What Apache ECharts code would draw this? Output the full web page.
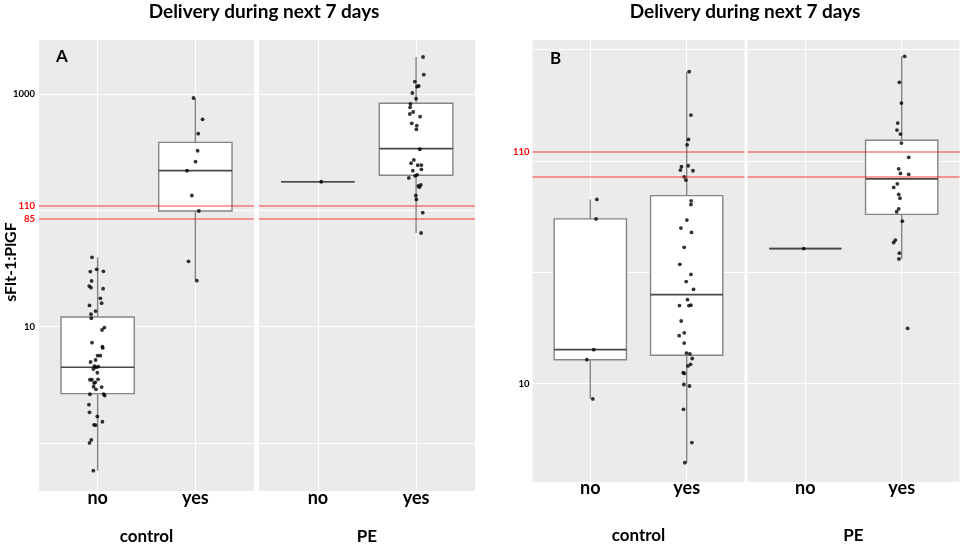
<!DOCTYPE html>
<html><head><meta charset="utf-8">
<script src="https://cdn.jsdelivr.net/npm/echarts@6/dist/echarts.min.js"></script>
<style>html,body{margin:0;padding:0;background:#fff}#c{width:963px;height:546px}</style>
</head><body><div id="c"></div>
<script>
const categories = ['no', 'yes'];
const facets = ['control', 'PE'];
const tickLabelsA = [10, 1000];
const tickLabelsB = [10];
const cutoffs = [110, 85];
const cutoffLabelsA = [110, 85];
const cutoffLabelsB = [110];

// points: [jitter offset, value]
const aControlNo = [[-0.058,39.4],[-0.010,31.1],[-0.075,29.7],[0.059,29.9],[-0.062,24.7],[-0.086,22.3],[-0.068,21.6],[0.056,21.2],[0.028,17.5],[0.041,15.9],[-0.083,15.2],[-0.021,13.6],[-0.068,12.8],[-0.065,11.8],[0.069,9.8],[0.045,9.35],[-0.058,7.27],[0.049,6.72],[0.052,6.55],[0,5.62],[0.028,5.62],[-0.021,5.16],[-0.072,4.96],[-0.034,4.58],[-0.017,4.47],[-0.044,4.32],[0.007,4.52],[-0.003,4.01],[-0.079,3.49],[-0.058,3.49],[0.004,3.52],[-0.037,3.27],[-0.024,3.32],[-0.041,3.04],[0.041,3.02],[-0.017,2.89],[-0.079,2.62],[0.062,2.63],[0.072,2.55],[-0.089,2.13],[-0.083,1.83],[-0.003,1.69],[0.049,1.52],[-0.037,1.43],[-0.021,1.42],[-0.065,1.06],[-0.083,1.0],[-0.044,0.577]];
const aControlYes = [[-0.019,924],[0.074,606],[0.029,456],[0.023,325],[0.002,262],[-0.085,219],[-0.036,134],[0.036,98.6],[-0.07,36.4],[0.015,24.8]];
const aPENo = [[0.034,176]];
const aPEYes = [[0.071,2080],[0.078,1466],[-0.013,1276],[0.027,1172],[0.010,1156],[-0.038,1020],[0,911],[-0.058,820],[-0.061,768],[-0.030,700],[-0.064,673],[0.041,638],[-0.044,560],[0.007,534],[0.003,497],[0.038,335],[-0.023,271],[-0.051,254],[0.017,244],[0.054,245],[0.054,225],[-0.033,219],[0.010,202],[-0.010,198],[-0.074,190],[0.048,165],[0.023,162],[0.033,158],[-0.003,134],[0.003,124],[0.068,95.4],[0.051,63.8]];
const bControlNo = [[0.068,67.1],[0.060,54.9],[0.036,14.2],[-0.036,12.8],[0.026,8.53]];
const bControlYes = [[0.026,251.5],[0.044,160.6],[0.019,124.9],[0.005,118.1],[-0.054,94.1],[-0.065,90.9],[0.016,95.1],[0.065,90.3],[-0.026,84.8],[-0.008,82.0],[0.047,66.2],[0.044,63.7],[0.002,54.2],[-0.060,49.9],[0.050,47.7],[-0.026,40.9],[-0.071,34.3],[0.044,30.9],[-0.005,28.7],[0.071,26.5],[0.008,23.8],[-0.075,22.4],[0.023,22.4],[0.044,22.5],[-0.057,19.1],[-0.078,16.4],[-0.026,16.9],[-0.026,15.2],[-0.002,13.7],[0.033,13.6],[0.057,12.96],[0.013,12.0],[0.040,12.2],[-0.036,11.2],[-0.026,11.1],[-0.029,9.9],[0.029,9.75],[-0.033,7.66],[0.054,5.43],[-0.019,4.41]];
const bPENo = [[-0.016,40.4]];
const bPEYes = [[0.031,294.9],[-0.024,225.3],[-0.003,181.9],[-0.041,147.9],[-0.049,137.5],[-0.013,131.9],[-0.003,120.2],[0.073,103.7],[-0.031,92.1],[-0.013,87.8],[0.073,87.0],[-0.045,78.9],[-0.083,76.0],[-0.031,70.7],[-0.018,68.0],[-0.031,60.9],[-0.052,59.1],[0.007,53.6],[-0.065,44.1],[-0.083,43.0],[-0.024,38.5],[-0.028,36.3],[0.062,17.7]];

// box stats: [min, q1, median, q3, max]
const aControlNoBox = [0.577, 2.65, 4.47, 12.1, 39.4];
const aControlYesBox = [24.8, 98.6, 219, 384, 924];
const aPENoBox = [176, 176, 176, 176, 176];
const aPEYesBox = [63.8, 200, 339, 832, 2080];
const bControlNoBox = [8.53, 12.8, 14.2, 54.9, 67.1];
const bControlYesBox = [4.41, 13.4, 25.1, 69.8, 251.5];
const bPENoBox = [40.4, 40.4, 40.4, 40.4, 40.4];
const bPEYesBox = [36.3, 57.5, 83.1, 123.7, 294.9];

const FONT = 'Lato, "Open Sans", sans-serif';

function renderBox(params, api) {
  const x = api.value(0);
  const mn = api.value(1), q1 = api.value(2), med = api.value(3), q3 = api.value(4), mx = api.value(5);
  const hw = 0.375;
  const pMax = api.coord([x, mx]), pQ3 = api.coord([x, q3]), pQ1 = api.coord([x, q1]), pMin = api.coord([x, mn]);
  const l = api.coord([x - hw, med])[0], r = api.coord([x + hw, med])[0];
  const yMed = api.coord([x, med])[1];
  const grey = '#858585';
  return { type: 'group', children: [
    { type: 'line', shape: { x1: pMax[0], y1: pMax[1], x2: pQ3[0], y2: pQ3[1] }, style: { stroke: grey, lineWidth: 1.4 } },
    { type: 'line', shape: { x1: pQ1[0], y1: pQ1[1], x2: pMin[0], y2: pMin[1] }, style: { stroke: grey, lineWidth: 1.4 } },
    { type: 'rect', shape: { x: l, y: pQ3[1], width: r - l, height: pQ1[1] - pQ3[1] }, style: { fill: '#fff', stroke: grey, lineWidth: 1.4 } },
    { type: 'line', shape: { x1: l, y1: yMed, x2: r, y2: yMed }, style: { stroke: '#474747', lineWidth: 1.7 } }
  ]};
}

function labelFmt(list) {
  return function (v) {
    for (const t of list) { if (Math.abs(Math.log10(v) - Math.log10(t)) < 0.005) return String(t); }
    return '';
  };
}

const grids = [
  { left: 39, top: 39, width: 215, height: 452 },
  { left: 259, top: 39, width: 216, height: 452 },
  { left: 532.5, top: 39, width: 212, height: 443 },
  { left: 747.5, top: 39, width: 212, height: 443 }
];
const panels = [
  { no: aControlNo, yes: aControlYes, noBox: aControlNoBox, yesBox: aControlYesBox, ymin: 0.3858, ymax: 2971, base: 10, labels: tickLabelsA, cut: cutoffLabelsA, showAxis: true, margin: 4, xMargin: -2, nameGap: 46 },
  { no: aPENo, yes: aPEYes, noBox: aPENoBox, yesBox: aPEYesBox, ymin: 0.3858, ymax: 2971, base: 10, labels: [], cut: [], showAxis: false, margin: 4, xMargin: -2, nameGap: 46 },
  { no: bControlNo, yes: bControlYes, noBox: bControlNoBox, yesBox: bControlYesBox, ymin: 3.613, ymax: 352.7, base: Math.sqrt(10), labels: tickLabelsB, cut: cutoffLabelsB, showAxis: true, margin: 3, xMargin: -3, nameGap: 54 },
  { no: bPENo, yes: bPEYes, noBox: bPENoBox, yesBox: bPEYesBox, ymin: 3.613, ymax: 352.7, base: Math.sqrt(10), labels: [], cut: [], showAxis: false, margin: 3, xMargin: -3, nameGap: 54 }
];

const xAxes = [], yAxes = [], series = [];
panels.forEach((p, i) => {
  xAxes.push({
    type: 'value', gridIndex: i, min: -0.6, max: 1.6,
    name: facets[i % 2], nameLocation: 'middle', nameGap: p.nameGap, nameMoveOverlap: false,
    nameTextStyle: { fontFamily: FONT, fontSize: 17, fontWeight: 'bold', color: '#000', verticalAlign: 'middle' },
    axisLine: { show: false },
    axisTick: { show: false, customValues: [0, 1] },
    axisLabel: { customValues: [0, 1], formatter: v => categories[Math.round(v)], margin: p.xMargin, fontSize: 18, fontWeight: 'bold', color: '#000', fontFamily: FONT },
    splitLine: { show: true, lineStyle: { color: '#ffffff', width: 1 } }
  });
  yAxes.push({
    type: 'log', logBase: p.base, gridIndex: i, min: p.ymin, max: p.ymax,
    axisLine: { show: false }, axisTick: { show: false },
    axisLabel: { show: p.showAxis, formatter: labelFmt(p.labels), margin: p.margin, fontSize: 9.5, fontWeight: 'bold', color: '#000', fontFamily: FONT, showMinLabel: false, showMaxLabel: false },
    splitLine: { show: true, lineStyle: { color: '#ffffff', width: 1 } }
  });
  series.push({
    type: 'custom', xAxisIndex: i, yAxisIndex: i, renderItem: renderBox, silent: true, z: 2,
    encode: { x: 0, y: [1, 2, 3, 4, 5] },
    data: [[0].concat(p.noBox), [1].concat(p.yesBox)]
  });
  series.push({
    type: 'scatter', xAxisIndex: i, yAxisIndex: i, silent: true, z: 4,
    symbol: 'circle', symbolSize: 3.8, itemStyle: { color: '#000' },
    data: p.no.map(d => [0 + d[0], d[1]]).concat(p.yes.map(d => [1 + d[0], d[1]])),
    markLine: {
      silent: true, symbol: 'none', animation: false,
      lineStyle: { color: 'rgba(255,0,0,0.5)', width: 1.6, type: 'solid' },
      emphasis: { disabled: true },
      data: cutoffs.map(v => ({
        yAxis: v,
        label: { show: p.cut.indexOf(v) >= 0, position: 'start', formatter: String(v), color: '#ff0000', fontSize: 9.5, fontWeight: 'bold', fontFamily: FONT, distance: p.margin }
      }))
    }
  });
});

const chart = echarts.init(document.getElementById('c'));
chart.setOption({
  animation: false,
  grid: grids.map(g => Object.assign({ show: true, backgroundColor: '#EBEBEB', borderWidth: 0, containLabel: false, outerBoundsMode: 'none' }, g)),
  xAxis: xAxes, yAxis: yAxes, series: series,
  graphic: [
    { type: 'text', x: 264, y: 12, style: { text: 'Delivery during next 7 days', font: 'bold 19px ' + FONT, fill: '#000', align: 'center', verticalAlign: 'middle' } },
    { type: 'text', x: 745, y: 12, style: { text: 'Delivery during next 7 days', font: 'bold 19px ' + FONT, fill: '#000', align: 'center', verticalAlign: 'middle' } },
    { type: 'text', x: 62, y: 57, style: { text: 'A', font: 'bold 17px ' + FONT, fill: '#000', align: 'center', verticalAlign: 'middle' } },
    { type: 'text', x: 555.5, y: 59, style: { text: 'B', font: 'bold 17px ' + FONT, fill: '#000', align: 'center', verticalAlign: 'middle' } },
    { type: 'text', x: 11, y: 262, rotation: Math.PI / 2, style: { text: 'sFlt-1:PlGF', font: 'bold 16px ' + FONT, fill: '#000', align: 'center', verticalAlign: 'middle' } }
  ]
});
</script></body></html>
